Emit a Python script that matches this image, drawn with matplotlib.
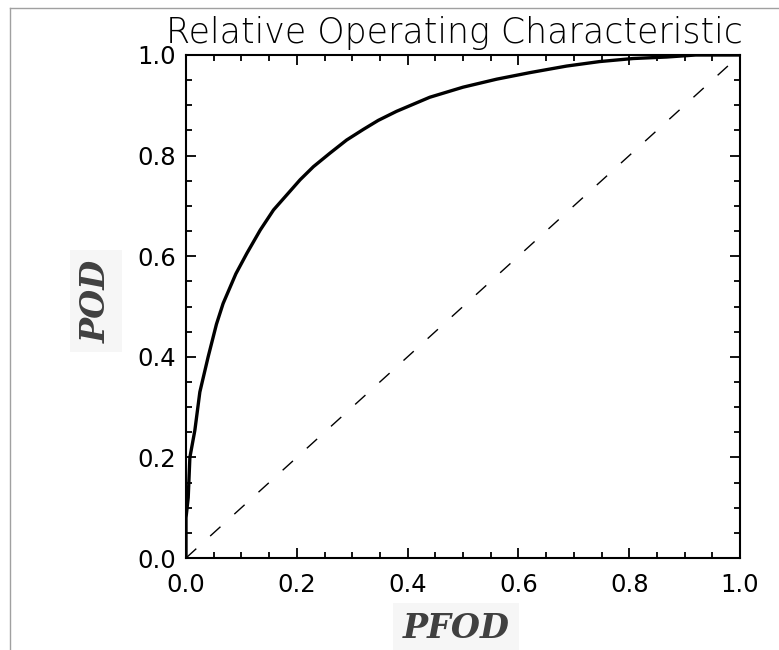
import matplotlib
matplotlib.use("Agg")
import matplotlib.pyplot as plt
from matplotlib.lines import Line2D
from matplotlib.ticker import MultipleLocator

# ---- data ----
pfod = [0.0, 0.0, 0.004, 0.007, 0.016, 0.025, 0.040, 0.055, 0.067, 0.090,
        0.110, 0.134, 0.158, 0.182, 0.206, 0.230, 0.260, 0.290, 0.320, 0.347,
        0.380, 0.440, 0.500, 0.561, 0.621, 0.687, 0.747, 0.807, 0.868, 0.920,
        1.0]
pod = [0.0, 0.08, 0.12, 0.20, 0.254, 0.330, 0.400, 0.465, 0.506, 0.565,
       0.606, 0.652, 0.692, 0.722, 0.752, 0.778, 0.805, 0.831, 0.852, 0.870,
       0.888, 0.916, 0.936, 0.952, 0.965, 0.978, 0.987, 0.993, 0.996, 1.0,
       1.0]
diag_x = [0.0, 1.0]
diag_y = [0.0, 1.0]
tick_vals = [0.0, 0.2, 0.4, 0.6, 0.8, 1.0]
tick_labels = ["0.0", "0.2", "0.4", "0.6", "0.8", "1.0"]
title = "Relative Operating Characteristic"
xlabel = "PFOD"
ylabel = "POD"

fig = plt.figure(figsize=(7.79, 6.5), dpi=100)
ax = fig.add_axes([186 / 779, 1 - 558 / 650, 554 / 779, 503 / 650])

ax.plot(pfod, pod, color="black", lw=2.4, solid_joinstyle="round")
ax.plot(diag_x, diag_y, color="black", lw=1.0, dashes=(10, 13.5))

ax.set_xlim(0, 1)
ax.set_ylim(0, 1)
ax.set_xticks(tick_vals)
ax.set_xticklabels(tick_labels)
ax.set_yticks(tick_vals)
ax.set_yticklabels(tick_labels)
ax.xaxis.set_minor_locator(MultipleLocator(0.05))
ax.yaxis.set_minor_locator(MultipleLocator(0.05))
ax.tick_params(which="both", direction="in", top=True, right=True,
               width=1.3, colors="black")
ax.tick_params(which="major", length=7.2, labelsize=17.5)
ax.tick_params(axis="x", which="major", pad=11)
ax.tick_params(axis="y", which="major", pad=7)
ax.tick_params(which="minor", length=4.3)
for s in ax.spines.values():
    s.set_linewidth(1.5)

ax.set_title(title, fontsize=25, fontweight="light", pad=9, x=0.484)

lab_kw = dict(family="DejaVu Serif", fontweight="bold", fontstyle="italic",
              fontsize=24, color="#404040")
ax.set_xlabel(xlabel, **lab_kw,
              bbox=dict(facecolor="#f6f6f6", edgecolor="none", pad=7))
ax.xaxis.set_label_coords((456 - 186) / 554, (558 - 629) / 503)
ax.xaxis.label.set_va("center")
ax.set_ylabel(ylabel, **lab_kw,
              bbox=dict(facecolor="#f6f6f6", edgecolor="none", pad=7))
ax.yaxis.set_label_coords((96 - 186) / 554, (558 - 301) / 503)
ax.yaxis.label.set_va("center")

# thin grey frame lines at top and left of the picture
fig.add_artist(Line2D([10 / 779, 1.0], [1 - 8 / 650, 1 - 8 / 650],
                      color="#a0a0a0", lw=1.0))
fig.add_artist(Line2D([10 / 779, 10 / 779], [0.0, 1 - 8 / 650],
                      color="#a0a0a0", lw=1.0))

fig.savefig("out.png", dpi=100)
